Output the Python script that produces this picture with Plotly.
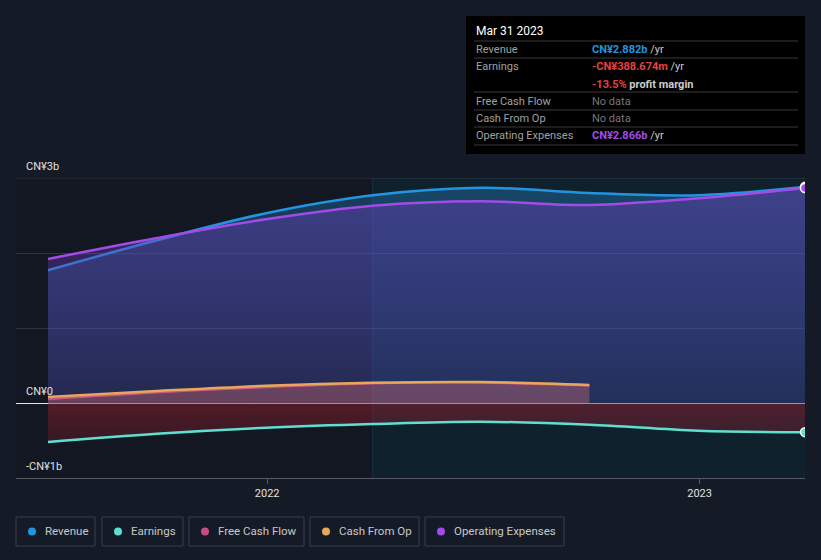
import plotly.graph_objects as go

# ---------------- data (CN¥ billions) ----------------
dates = ["2021-06-30", "2021-09-30", "2021-12-31", "2022-03-31",
         "2022-06-30", "2022-09-30", "2022-12-31", "2023-03-31"]
revenue = [1.77, 2.17, 2.53, 2.77, 2.87, 2.80, 2.77, 2.882]
opex = [1.92, 2.20, 2.45, 2.63, 2.69, 2.64, 2.73, 2.866]
earnings = [-0.52, -0.41, -0.33, -0.28, -0.25, -0.29, -0.37, -0.3887]
cf_dates = dates[:6]
cash_from_op = [0.08, 0.16, 0.23, 0.27, 0.28, 0.24]
free_cash_flow = [0.05, 0.14, 0.21, 0.26, 0.27, 0.23]

y_tick_vals = [-1, 0, 3]
y_tick_text = ["-CN¥1b", "CN¥0", "CN¥3b"]
x_tick_vals = ["2022-01-01", "2023-01-01"]
x_tick_text = ["2022", "2023"]

legend_names = ["Revenue", "Earnings", "Free Cash Flow", "Cash From Op", "Operating Expenses"]

C_REV = "#2394df"
C_EARN = "#5ee0d0"
C_FCF = "#c94a87"
C_CFO = "#e8a85c"
C_OPEX = "#a24be8"
BG = "#151b26"

W, H = 821, 560
L, R, T, B = 16, 805, 178, 478


def px(x):
    return (x - L) / (R - L)


def py(y):
    return (B - y) / (B - T)


fig = go.Figure()

# revenue
fig.add_trace(go.Scatter(
    x=dates, y=revenue, mode="lines", line=dict(color=C_REV, width=2.5, shape="spline"),
    fill="tozeroy",
    fillgradient=dict(type="vertical", start=0, stop=2.9,
                      colorscale=[[0, "rgba(35,148,223,0.10)"], [1, "rgba(35,148,223,0.32)"]]),
    hoverinfo="skip"))
# opex
fig.add_trace(go.Scatter(
    x=dates, y=opex, mode="lines", line=dict(color=C_OPEX, width=2.5, shape="spline"),
    fill="tozeroy",
    fillgradient=dict(type="vertical", start=0, stop=2.8,
                      colorscale=[[0, "rgba(100,60,190,0.20)"], [1, "rgba(105,60,175,0.48)"]]),
    hoverinfo="skip"))
# free cash flow
fig.add_trace(go.Scatter(
    x=cf_dates, y=free_cash_flow, mode="lines", line=dict(color=C_FCF, width=2, shape="spline"),
    fill="tozeroy", fillcolor="rgba(201,74,135,0.28)", hoverinfo="skip"))
# cash from op
fig.add_trace(go.Scatter(
    x=cf_dates, y=cash_from_op, mode="lines", line=dict(color=C_CFO, width=2.5, shape="spline"),
    fill="tozeroy", fillcolor="rgba(232,168,92,0.14)", hoverinfo="skip"))
# earnings
fig.add_trace(go.Scatter(
    x=dates, y=earnings, mode="lines", line=dict(color=C_EARN, width=2.5, shape="spline"),
    fill="tozeroy",
    fillgradient=dict(type="vertical", start=-0.5, stop=0,
                      colorscale=[[0, "rgba(150,30,45,0.28)"], [1, "rgba(150,30,45,0.48)"]]),
    hoverinfo="skip"))

# end markers
fig.add_trace(go.Scatter(
    x=[dates[-1], dates[-1], dates[-1]], y=[revenue[-1], opex[-1], earnings[-1]],
    mode="markers",
    marker=dict(size=9, color=[C_REV, C_OPEX, C_EARN], line=dict(color="white", width=1.5)),
    hoverinfo="skip"))

shapes = []
# dark past region and highlighted recent region
shapes.append(dict(type="rect", xref="x", yref="y", x0="2021-06-03", x1="2022-03-31", y0=-1, y1=3,
                   fillcolor="rgba(0,0,0,0.12)", line=dict(width=0), layer="below"))
shapes.append(dict(type="rect", xref="x", yref="y", x0="2022-03-31", x1=dates[-1], y0=-1, y1=3,
                   fillcolor="rgba(0,60,80,0.20)", line=dict(width=0), layer="below"))
shapes.append(dict(type="line", xref="x", yref="y", x0="2022-03-31", x1="2022-03-31", y0=-1, y1=3,
                   line=dict(color="rgba(40,110,150,0.25)", width=1), layer="below"))
# top gridline
shapes.append(dict(type="line", xref="paper", yref="y", x0=0, x1=1, y0=3, y1=3,
                   line=dict(color="rgba(255,255,255,0.15)", width=1), layer="below"))

annotations = []
# y tick labels
for v, t in zip(y_tick_vals, y_tick_text):
    annotations.append(dict(xref="paper", yref="y", x=px(24), y=v, yshift=12, text=t,
                            showarrow=False, xanchor="left", yanchor="middle",
                            font=dict(color="#e0e0e0", size=11)))

# tooltip box
shapes.append(dict(type="rect", xref="paper", yref="paper", x0=px(466), x1=px(805),
                   y0=py(154), y1=py(16), fillcolor="#000000", line=dict(width=0), layer="above"))
for ly in [41, 58, 92, 110, 127, 145]:
    shapes.append(dict(type="line", xref="paper", yref="paper", x0=px(474), x1=px(798),
                       y0=py(ly), y1=py(ly), line=dict(color="#3a3a3a", width=1), layer="above"))

annotations.append(dict(xref="paper", yref="paper", x=px(474), y=py(31), text="Mar 31 2023",
                        showarrow=False, xanchor="left", yanchor="middle",
                        font=dict(color="#ffffff", size=12)))
rows = [
    (49, "Revenue", "<b><span style='color:%s'>CN¥2.882b</span></b> <span style='color:#cccccc'>/yr</span>" % C_REV),
    (66, "Earnings", "<b><span style='color:#e64141'>-CN¥388.674m</span></b> <span style='color:#cccccc'>/yr</span>"),
    (84, "", "<b><span style='color:#e64141'>-13.5%</span> <span style='color:#cccccc'>profit margin</span></b>"),
    (101, "Free Cash Flow", "<span style='color:#777777'>No data</span>"),
    (118, "Cash From Op", "<span style='color:#777777'>No data</span>"),
    (135, "Operating Expenses", "<b><span style='color:%s'>CN¥2.866b</span></b> <span style='color:#cccccc'>/yr</span>" % C_OPEX),
]
for yy, lab, val in rows:
    if lab:
        annotations.append(dict(xref="paper", yref="paper", x=px(474), y=py(yy), text=lab,
                                showarrow=False, xanchor="left", yanchor="middle",
                                font=dict(color="#a0a0a0", size=11)))
    annotations.append(dict(xref="paper", yref="paper", x=px(590), y=py(yy), text=val,
                            showarrow=False, xanchor="left", yanchor="middle",
                            font=dict(size=11)))

# legend boxes
legend_boxes = [(16, 95), (102, 183), (189, 304), (310, 419), (425, 564)]
legend_colors = [C_REV, C_EARN, C_FCF, C_CFO, C_OPEX]
for (x0, x1), name, col in zip(legend_boxes, legend_names, legend_colors):
    shapes.append(dict(type="rect", xref="paper", yref="paper", x0=px(x0), x1=px(x1),
                       y0=py(546), y1=py(517), line=dict(color="#3a3f4a", width=1),
                       fillcolor="rgba(0,0,0,0)"))
    shapes.append(dict(type="circle", xref="paper", yref="paper", x0=px(x0 + 12), x1=px(x0 + 20),
                       y0=py(535.5), y1=py(527.5), line=dict(width=0), fillcolor=col))
    annotations.append(dict(xref="paper", yref="paper", x=px(x0 + 27), y=py(531), text=name,
                            showarrow=False, xanchor="left", yanchor="middle",
                            font=dict(color="#c8c8c8", size=11.5)))

fig.update_layout(
    width=W, height=H,
    margin=dict(l=L, r=W - R, t=T, b=H - B),
    paper_bgcolor=BG, plot_bgcolor=BG,
    font=dict(family="Roboto, Arial, sans-serif", color="#e0e0e0"),
    showlegend=False,
    shapes=shapes, annotations=annotations,
    xaxis=dict(type="date", range=["2021-06-03", "2023-03-31"],
               tickvals=x_tick_vals, ticktext=x_tick_text,
               showgrid=False, ticks="outside", ticklen=5, tickcolor="#555a63",
               showline=True, linecolor="#555a63", linewidth=1,
               tickfont=dict(color="#e0e0e0", size=11), zeroline=False, fixedrange=True),
    yaxis=dict(range=[-1, 3], tickvals=[-1, 0, 1, 2, 3], showticklabels=False,
               gridcolor="rgba(255,255,255,0.13)", gridwidth=1,
               zeroline=True, zerolinecolor="#e8e0e8", zerolinewidth=1.2,
               showline=False, fixedrange=True),
)

fig.write_html("out.html", config={"displayModeBar": False},
               post_script="document.body.style.margin='0';document.body.style.background='%s';" % BG)
